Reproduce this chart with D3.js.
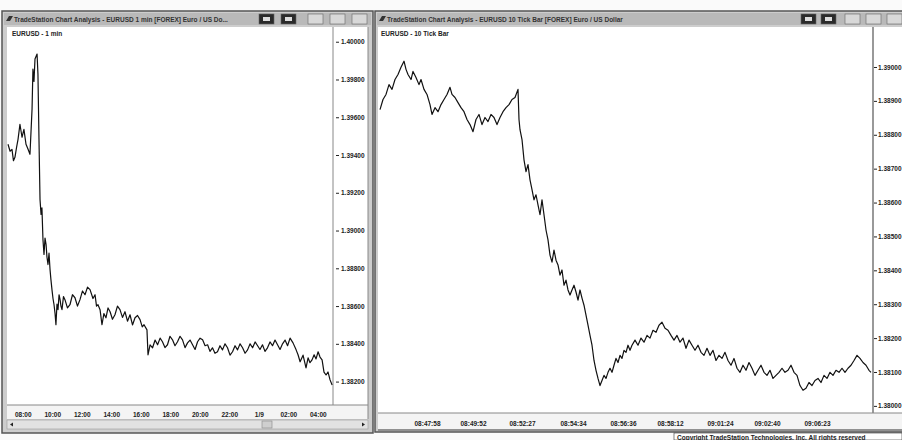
<!DOCTYPE html>
<html><head><meta charset="utf-8">
<script src="https://cdn.jsdelivr.net/npm/d3@7"></script>
<style>html,body{margin:0;padding:0;background:#fff;}svg{display:block;font-family:"Liberation Sans",Arial,sans-serif;}</style>
</head><body><svg id="c" width="902" height="440"></svg>
<script>
// ---- Left chart: EURUSD 1 min (hours from 1/8 00:00) ----
const leftHours = [7.00,7.14,7.27,7.37,7.47,7.58,7.68,7.81,7.95,8.08,8.22,8.36,8.49,8.63,8.69,8.76,8.83,8.97,9.03,9.10,9.17,9.24,9.30,9.37,9.44,9.51,9.58,9.64,9.71,9.78,9.85,9.91,9.98,10.05,10.12,10.19,10.25,10.32,10.39,10.46,10.53,10.59,10.66,10.76,10.86,11.03,11.20,11.37,11.54,11.71,11.88,12.05,12.22,12.39,12.56,12.76,12.90,13.00,13.10,13.24,13.37,13.50,13.64,13.78,13.92,14.08,14.25,14.42,14.59,14.76,14.93,15.10,15.27,15.44,15.61,15.78,15.95,16.10,16.22,16.42,16.49,16.63,16.80,16.97,17.14,17.31,17.47,17.64,17.81,17.98,18.15,18.32,18.49,18.66,18.83,19.00,19.17,19.34,19.51,19.68,19.85,20.02,20.19,20.36,20.53,20.69,20.86,21.03,21.20,21.37,21.54,21.71,21.88,22.05,22.22,22.39,22.56,22.73,22.90,23.07,23.24,23.41,23.58,23.75,23.92,24.08,24.25,24.42,24.59,24.76,24.93,25.10,25.27,25.44,25.61,25.78,25.95,26.12,26.32,26.53,26.66,26.80,27.00,27.20,27.34,27.47,27.61,27.75,27.88,28.02,28.15,28.29,28.42,28.56,28.69,28.83,28.97];
const leftClose = [1.39457,1.39420,1.39430,1.39370,1.39388,1.39440,1.39483,1.39563,1.39494,1.39536,1.39457,1.39430,1.39404,1.39643,1.39855,1.39790,1.39908,1.39935,1.39829,1.39483,1.39165,1.39085,1.39120,1.38952,1.38873,1.38960,1.38926,1.38860,1.38820,1.38880,1.38793,1.38740,1.38687,1.38640,1.38607,1.38560,1.38501,1.38610,1.38581,1.38660,1.38634,1.38600,1.38581,1.38650,1.38634,1.38590,1.38607,1.38660,1.38644,1.38600,1.38634,1.38680,1.38660,1.38700,1.38687,1.38640,1.38660,1.38600,1.38607,1.38581,1.38501,1.38560,1.38538,1.38590,1.38570,1.38530,1.38554,1.38600,1.38581,1.38540,1.38570,1.38520,1.38554,1.38500,1.38538,1.38550,1.38528,1.38490,1.38501,1.38474,1.38342,1.38395,1.38379,1.38420,1.38395,1.38430,1.38411,1.38380,1.38395,1.38440,1.38421,1.38390,1.38411,1.38440,1.38421,1.38380,1.38405,1.38420,1.38395,1.38370,1.38411,1.38430,1.38421,1.38390,1.38395,1.38360,1.38379,1.38350,1.38358,1.38390,1.38368,1.38400,1.38379,1.38340,1.38358,1.38390,1.38368,1.38400,1.38379,1.38350,1.38368,1.38400,1.38379,1.38410,1.38390,1.38370,1.38395,1.38360,1.38379,1.38410,1.38390,1.38420,1.38395,1.38370,1.38400,1.38420,1.38390,1.38430,1.38405,1.38368,1.38342,1.38305,1.38340,1.38273,1.38326,1.38300,1.38315,1.38342,1.38320,1.38358,1.38330,1.38315,1.38250,1.38235,1.38251,1.38209,1.38182];
const leftTickHours = [8,10,12,14,16,18,20,22,24,26,28];
const leftTickLabels = ["08:00","10:00","12:00","14:00","16:00","18:00","20:00","22:00","1/9","02:00","04:00"];
const leftPriceTicks = [1.400,1.398,1.396,1.394,1.392,1.390,1.388,1.386,1.384,1.382];

// ---- Right chart: EURUSD 10 tick bars (bar number) ----
const rightBar = [2,5,8,11,14,17,20,23,26,28,30,33,35,38,41,43,46,49,52,54,57,60,63,66,69,72,74,77,80,83,86,89,92,95,98,101,104,107,110,113,116,119,122,125,128,131,134,137,140,141,142,144,146,148,150,152,154,156,158,160,162,164,166,168,170,172,174,176,178,180,182,184,186,188,190,192,194,196,198,200,202,204,206,208,210,212,214,216,218,220,222,224,226,228,230,232,234,236,238,240,242,244,246,248,250,252,254,257,260,263,266,269,272,275,278,281,284,287,290,293,296,299,302,305,308,311,314,317,320,323,326,329,332,335,338,341,344,347,350,353,356,359,362,365,368,371,374,377,380,383,386,389,392,395,398,401,404,407,410,413,416,419,422,425,428,431,434,437,440,443,446,449,452,455,458,461,464,467,470,473,476,479,482,485,488,491,493];
const rightClose = [1.38874,1.38904,1.38919,1.38948,1.38934,1.38963,1.38978,1.38999,1.39017,1.38993,1.38978,1.38963,1.38987,1.38969,1.38948,1.38963,1.38934,1.38919,1.38889,1.38860,1.38880,1.38868,1.38889,1.38904,1.38919,1.38940,1.38919,1.38910,1.38895,1.38880,1.38868,1.38845,1.38830,1.38809,1.38845,1.38860,1.38830,1.38851,1.38839,1.38860,1.38851,1.38830,1.38851,1.38868,1.38880,1.38889,1.38904,1.38910,1.38934,1.38845,1.38815,1.38786,1.38726,1.38691,1.38712,1.38667,1.38638,1.38608,1.38623,1.38593,1.38564,1.38608,1.38564,1.38519,1.38490,1.38445,1.38424,1.38460,1.38430,1.38416,1.38386,1.38401,1.38356,1.38371,1.38342,1.38327,1.38342,1.38356,1.38336,1.38312,1.38342,1.38318,1.38297,1.38268,1.38238,1.38208,1.38179,1.38134,1.38105,1.38081,1.38060,1.38075,1.38090,1.38081,1.38099,1.38111,1.38099,1.38120,1.38140,1.38128,1.38149,1.38140,1.38164,1.38158,1.38179,1.38164,1.38179,1.38194,1.38179,1.38200,1.38188,1.38208,1.38200,1.38223,1.38217,1.38238,1.38247,1.38229,1.38223,1.38208,1.38194,1.38208,1.38188,1.38200,1.38170,1.38194,1.38179,1.38164,1.38179,1.38158,1.38149,1.38170,1.38149,1.38164,1.38134,1.38149,1.38140,1.38158,1.38134,1.38120,1.38140,1.38111,1.38099,1.38120,1.38105,1.38128,1.38111,1.38090,1.38105,1.38120,1.38099,1.38090,1.38105,1.38081,1.38090,1.38099,1.38111,1.38099,1.38105,1.38120,1.38099,1.38090,1.38060,1.38046,1.38052,1.38069,1.38060,1.38075,1.38081,1.38069,1.38090,1.38081,1.38099,1.38090,1.38105,1.38099,1.38111,1.38099,1.38111,1.38120,1.38134,1.38149,1.38140,1.38128,1.38120,1.38105,1.38099];
const rightTickBars = [49,95,144,195,245,292,342,389,439];
const rightTickLabels = ["08:47:58","08:49:52","08:52:27","08:54:34","08:56:36","08:58:12","09:01:24","09:02:40","09:06:23"];
const rightPriceTicks = [1.390,1.389,1.388,1.387,1.386,1.385,1.384,1.383,1.382,1.381,1.380];

const titles = ["TradeStation Chart Analysis - EURUSD 1 min [FOREX] Euro / US Do...",
                "TradeStation Chart Analysis - EURUSD 10 Tick Bar [FOREX] Euro / US Dollar"];
const symbols = ["EURUSD - 1 min","EURUSD - 10 Tick Bar"];
const footer = "Copyright TradeStation Technologies, Inc. All rights reserved";

const svg = d3.select("#c");
svg.append("rect").attr("width",902).attr("height",440).attr("fill","#fafafa");

function windowFrame(x0, x1, y0, y1, title, btnX){
  svg.append("rect").attr("x",x0).attr("y",y0).attr("width",x1-x0).attr("height",y1-y0)
    .attr("fill","#cdcdcd").attr("stroke","#555").attr("stroke-width",1.5);
  svg.append("rect").attr("x",x0+2).attr("y",y0+2).attr("width",x1-x0-4).attr("height",12)
    .attr("fill","#b9b9b9");
  svg.append("text").attr("x",x0+12).attr("y",y0+11).attr("font-size",6.5).attr("font-weight","bold")
    .attr("fill","#333").text(title);
  svg.append("path").attr("d",`M${x0+4},${y0+10} l3,-5 l4,0 l-3,5z`).attr("fill","#333");
  btnX.forEach((bx,i)=>{
    svg.append("rect").attr("x",bx).attr("y",y0+3).attr("width",15).attr("height",10)
      .attr("fill", i<2 ? "#2a2a2a" : "#d8d8d8").attr("stroke","#666").attr("stroke-width",0.6);
    if(i<2) svg.append("rect").attr("x",bx+4).attr("y",y0+6).attr("width",7).attr("height",4).attr("fill","#ddd");
  });
}
windowFrame(2, 373, 11, 433, titles[0], [259,281,308,330,352]);
windowFrame(375, 904, 11, 432, titles[1], [801,821,845,866,887]);

// ---- Left panel ----
const L = {x0:7, x1:333, y0:27, y1:405};
svg.append("rect").attr("x",L.x0).attr("y",L.y0).attr("width",368-L.x0).attr("height",L.y1-L.y0).attr("fill","#fff");
svg.append("rect").attr("x",L.x0).attr("y",L.y1).attr("width",368-L.x0).attr("height",14).attr("fill","#f4f4f4");
svg.append("line").attr("x1",L.x1).attr("x2",L.x1).attr("y1",L.y0).attr("y2",L.y1).attr("stroke","#888");
svg.append("line").attr("x1",L.x0).attr("x2",368).attr("y1",L.y1).attr("y2",L.y1).attr("stroke","#888");
svg.append("line").attr("x1",368).attr("x2",368).attr("y1",L.y0).attr("y2",419).attr("stroke","#888");
// scrollbar
svg.append("rect").attr("x",L.x0).attr("y",420).attr("width",368-L.x0).attr("height",9).attr("fill","#e2e2e2").attr("stroke","#999").attr("stroke-width",0.6);
svg.append("rect").attr("x",262).attr("y",421).attr("width",10).attr("height",7).attr("fill","#cfcfcf").attr("stroke","#888").attr("stroke-width",0.6);
svg.append("path").attr("d","M10,424.5 l3,-2 l0,4z M365,424.5 l-3,-2 l0,4z").attr("fill","#222");

const xL = d3.scaleLinear().domain([7, 29.03]).range([L.x0+1, L.x1]);
const yL = d3.scaleLinear().domain([1.38076, 1.40078]).range([L.y1, L.y0]);
svg.append("text").attr("x",12).attr("y",36).attr("font-size",6.5).attr("font-weight","bold").attr("fill","#222").text(symbols[0]);

svg.append("path").datum(leftHours.map((h,i)=>[h,leftClose[i]]))
  .attr("fill","none").attr("stroke","#111").attr("stroke-width",1.2).attr("stroke-linejoin","round")
  .attr("d", d3.line().x(d=>xL(d[0])).y(d=>yL(d[1])));

const gLy = svg.append("g").attr("transform",`translate(${L.x1+3},0)`)
  .call(d3.axisRight(yL).tickValues(leftPriceTicks).tickSize(3).tickPadding(2).tickFormat(d3.format(".5f")));
gLy.select(".domain").remove();
gLy.selectAll("text").attr("font-size",6.5).attr("font-weight","bold").attr("fill","#222");
gLy.selectAll("line").attr("stroke","#222");

const gLx = svg.append("g").attr("transform",`translate(0,${L.y1+3})`)
  .call(d3.axisBottom(xL).tickValues(leftTickHours).tickSize(0).tickPadding(4).tickFormat((d,i)=>leftTickLabels[i]));
gLx.select(".domain").remove();
gLx.selectAll("text").attr("font-size",6.5).attr("font-weight","bold").attr("fill","#222");

// ---- Right panel ----
const R = {x0:378, x1:873, y0:27, y1:413};
svg.append("rect").attr("x",R.x0).attr("y",R.y0).attr("width",902-R.x0).attr("height",R.y1-R.y0).attr("fill","#fff");
svg.append("rect").attr("x",R.x0).attr("y",R.y1).attr("width",902-R.x0).attr("height",16).attr("fill","#f4f4f4");
svg.append("line").attr("x1",R.x1).attr("x2",R.x1).attr("y1",R.y0).attr("y2",R.y1).attr("stroke","#777").attr("stroke-width",1.5);
svg.append("line").attr("x1",R.x0).attr("x2",902).attr("y1",R.y1).attr("y2",R.y1).attr("stroke","#888");
svg.append("line").attr("x1",R.x0).attr("x2",902).attr("y1",430).attr("y2",430).attr("stroke","#555");

const xR = d3.scaleLinear().domain([0, 494]).range([R.x0, R.x1-1]);
const yR = d3.scaleLinear().domain([1.37979, 1.39118]).range([R.y1, R.y0]);
svg.append("text").attr("x",381).attr("y",36).attr("font-size",6.5).attr("font-weight","bold").attr("fill","#222").text(symbols[1]);

svg.append("path").datum(rightBar.map((b,i)=>[b,rightClose[i]]))
  .attr("fill","none").attr("stroke","#111").attr("stroke-width",1.2).attr("stroke-linejoin","round")
  .attr("d", d3.line().x(d=>xR(d[0])).y(d=>yR(d[1])));

const gRy = svg.append("g").attr("transform",`translate(${R.x1+1},0)`)
  .call(d3.axisRight(yR).tickValues(rightPriceTicks).tickSize(3).tickPadding(1).tickFormat(d3.format(".5f")));
gRy.select(".domain").remove();
gRy.selectAll("text").attr("font-size",6.5).attr("font-weight","bold").attr("fill","#222");
gRy.selectAll("line").attr("stroke","#222");

const gRx = svg.append("g").attr("transform",`translate(0,${R.y1+4})`)
  .call(d3.axisBottom(xR).tickValues(rightTickBars).tickSize(0).tickPadding(4).tickFormat((d,i)=>rightTickLabels[i]));
gRx.select(".domain").remove();
gRx.selectAll("text").attr("font-size",6.5).attr("font-weight","bold").attr("fill","#222");

// footer
svg.append("rect").attr("x",674).attr("y",433).attr("width",228).attr("height",7).attr("fill","#fff").attr("stroke","#333").attr("stroke-width",0.6);
svg.append("text").attr("x",677).attr("y",439.5).attr("font-size",6.5).attr("font-weight","bold").attr("fill","#222").text(footer);
</script></body></html>
